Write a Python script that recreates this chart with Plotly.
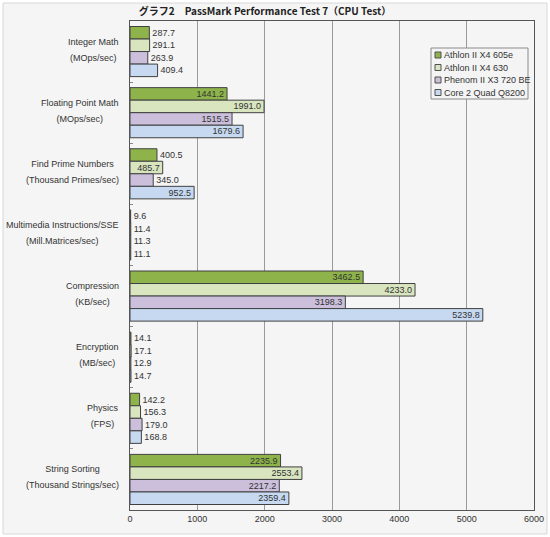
import plotly.graph_objects as go

title_text = "グラフ2　PassMark Performance Test 7（CPU Test）"
categories = ["Integer Math", "Floating Point Math", "Find Prime Numbers",
              "Multimedia Instructions/SSE", "Compression", "Encryption",
              "Physics", "String Sorting"]
units = ["(MOps/sec)", "(MOps/sec)", "(Thousand Primes/sec)", "(Mill.Matrices/sec)",
         "(KB/sec)", "(MB/sec)", "(FPS)", "(Thousand Strings/sec)"]
series_names = ["Athlon II X4 605e", "Athlon II X4 630", "Phenom II X3 720 BE", "Core 2 Quad Q8200"]
athlon_605e = [287.7, 1441.2, 400.5, 9.6, 3462.5, 14.1, 142.2, 2235.9]
athlon_630 = [291.1, 1991.0, 485.7, 11.4, 4233.0, 17.1, 156.3, 2553.4]
phenom_720 = [263.9, 1515.5, 345.0, 11.3, 3198.3, 12.9, 179.0, 2217.2]
core2_q8200 = [409.4, 1679.6, 952.5, 11.1, 5239.8, 14.7, 168.8, 2359.4]
x_ticks = [0, 1000, 2000, 3000, 4000, 5000, 6000]

series_values = [athlon_605e, athlon_630, phenom_720, core2_q8200]
colors = ["#8db34a", "#d8e5bf", "#cbbfdc", "#c6d9f1"]

W, H = 550, 537
ML, MR, MT, MB = 130, 16, 21, 27
pw = W - ML - MR
ph = H - MT - MB
FONT = "Liberation Sans"
TXT = "#333333"
LABEL_FIT = 450  # labels of shorter bars sit outside the bar


def px(x):
    return (x - ML) / pw


def py(y):
    return 1 - (y - MT) / ph


fig = go.Figure()
for name, vals, col in zip(series_names, series_values, colors):
    fig.add_trace(go.Bar(
        y=categories, x=vals, name=name, orientation="h", showlegend=False,
        marker=dict(color=col, line=dict(color="#404040", width=1)),
        texttemplate="%{x:.1f}",
        textposition=["inside" if v > LABEL_FIT else "outside" for v in vals],
        insidetextanchor="end", constraintext="none",
        textfont=dict(family=FONT, size=9, color=TXT),
        insidetextfont=dict(family=FONT, size=9, color=TXT),
        outsidetextfont=dict(family=FONT, size=9, color=TXT),
        cliponaxis=False,
    ))

annotations = []
for cat, unit in zip(categories, units):
    txt = ("<span style='font-size:9px'>" + cat + "</span><br>"
           "<span style='font-size:9px'>" + unit + "</span>")
    annotations.append(dict(x=0, xref="paper", y=cat, yref="y", text=txt, showarrow=False,
                            xanchor="right", xshift=-9, yshift=2, align="center",
                            font=dict(family=FONT, size=12.3, color=TXT)))

# legend (custom, compact like the reference)
shapes = [dict(type="rect", xref="paper", yref="paper", layer="below",
               x0=px(3), x1=px(W - 3), y0=py(H - 3), y1=py(3),
               fillcolor="#f5f5f5", line=dict(color="#d8d8d8", width=1)),
          dict(type="rect", xref="paper", yref="paper",
               x0=px(431), x1=px(528), y0=py(99), y1=py(48),
               fillcolor="#f4f4f4", line=dict(color="#8a8a8a", width=1))]
leg_y = [55, 67.5, 80, 92.5]
for name, col, yy in zip(series_names, colors, leg_y):
    shapes.append(dict(type="rect", xref="paper", yref="paper",
                       x0=px(435), x1=px(441), y0=py(yy + 3), y1=py(yy - 3),
                       fillcolor=col, line=dict(color="#505050", width=1)))
    annotations.append(dict(x=px(442), xref="paper", y=py(yy), yref="paper", text=name,
                            showarrow=False, xanchor="left", yanchor="middle",
                            font=dict(family=FONT, size=9, color=TXT)))

fig.update_layout(
    template="none",
    width=W, height=H,
    margin=dict(l=ML, r=MR, t=MT, b=MB, autoexpand=False),
    paper_bgcolor="#ffffff",
    plot_bgcolor="#f2f2f2",
    barmode="group", bargap=0.18, bargroupgap=0,
    showlegend=False,
    title=dict(text="<b>" + title_text + "</b>", x=265 / W, xanchor="center",
               y=1 - 11 / H, yanchor="middle", xref="container", yref="container",
               font=dict(family="Noto Sans CJK JP", size=10, color="#222222")),
    xaxis=dict(range=[0, 6000], tickvals=x_ticks, ticktext=[str(v) for v in x_ticks],
               showgrid=True, gridcolor="#9a9a9a", gridwidth=1, automargin=False,
               showline=True, linecolor="#555555", linewidth=1, mirror=True,
               ticks="", ticklen=0, tickfont=dict(family=FONT, size=9, color=TXT), zeroline=False),
    yaxis=dict(autorange="reversed", showticklabels=False, ticks="inside", ticklen=3,
               tickcolor="#888888", tickson="boundaries", automargin=False,
               showline=True, linecolor="#555555", linewidth=1, mirror=True, showgrid=False,
               zeroline=False),
    annotations=annotations,
    shapes=shapes,
)

fig.write_html("out.html", config={"displayModeBar": False},
               post_script="document.body.style.margin='0';")
